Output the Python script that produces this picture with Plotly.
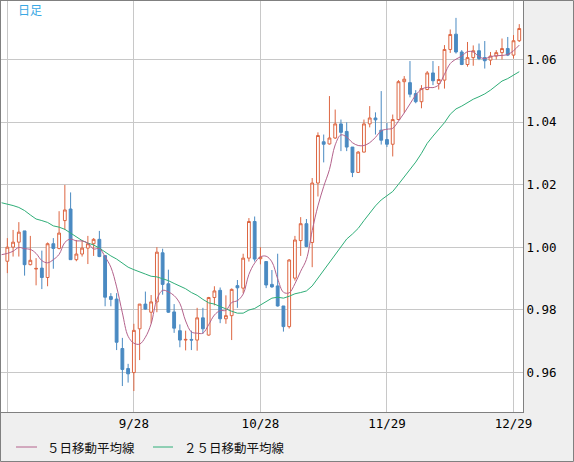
import plotly.graph_objects as go

# 日足 EUR/USD 風 ローソク足 (bar index 0 = 8/29, 89 = 12/30)
opens = [0.9955, 1.0000, 1.0016, 1.0052, 0.9944, 0.9930, 0.9933, 0.9903, 1.0011, 0.9996,
         1.0085, 1.0122, 0.9960, 0.9978, 0.9997, 1.0011, 1.0025, 0.9973, 0.9842, 0.9834,
         0.9676, 0.9612, 0.9599, 0.9739, 0.9818, 0.9792, 0.9825, 0.9982, 0.9883, 0.9793,
         0.9733, 0.9703, 0.9705, 0.9703, 0.9774, 0.9719, 0.9839, 0.9862, 0.9771, 0.9781,
         0.9877, 0.9869, 0.9965, 1.0082, 0.9963, 0.9954, 0.9881, 0.9876, 0.9812, 0.9746,
         0.9901, 1.0021, 1.0075, 1.0015, 1.0205, 1.0337, 1.0330, 1.0349, 1.0394, 1.0370,
         1.0320, 1.0239, 1.0304, 1.0394, 1.0413, 1.0374, 1.0344, 1.0329, 1.0408, 1.0529,
         1.0526, 1.0491, 1.0465, 1.0504, 1.0557, 1.0523, 1.0534, 1.0632, 1.0681, 1.0624,
         1.0584, 1.0606, 1.0628, 1.0606, 1.0598, 1.0611, 1.0622, 1.0635, 1.0614, 1.0660]
highs = [1.0029, 1.0055, 1.0080, 1.0052, 1.0036, 0.9965, 0.9989, 1.0015, 1.0029, 1.0115,
         1.0199, 1.0175, 1.0023, 1.0023, 1.0036, 1.0029, 1.0052, 0.9975, 0.9853, 0.9853,
         0.9710, 0.9627, 0.9755, 0.9818, 0.9858, 0.9847, 1.0000, 0.9995, 0.9928, 0.9818,
         0.9753, 0.9733, 0.9733, 0.9806, 0.9806, 0.9841, 0.9875, 0.9871, 0.9846, 0.9868,
         0.9895, 0.9979, 1.0093, 1.0098, 1.0000, 0.9955, 0.9927, 0.9979, 0.9812, 0.9962,
         1.0036, 1.0096, 1.0090, 1.0221, 1.0367, 1.0360, 1.0483, 1.0440, 1.0408, 1.0399,
         1.0320, 1.0307, 1.0408, 1.0451, 1.0431, 1.0499, 1.0397, 1.0424, 1.0534, 1.0547,
         1.0595, 1.0502, 1.0518, 1.0563, 1.0595, 1.0579, 1.0646, 1.0696, 1.0733, 1.0630,
         1.0656, 1.0645, 1.0651, 1.0659, 1.0624, 1.0630, 1.0667, 1.0672, 1.0678, 1.0713]
lows = [0.9917, 0.9970, 0.9970, 0.9909, 0.9942, 0.9878, 0.9866, 0.9875, 0.9931, 0.9993,
        1.0055, 0.9960, 0.9955, 0.9970, 0.9946, 0.9972, 0.9968, 0.9811, 0.9811, 0.9671,
        0.9556, 0.9567, 0.9540, 0.9639, 0.9800, 0.9756, 0.9792, 0.9848, 0.9790, 0.9726,
        0.9680, 0.9670, 0.9671, 0.9669, 0.9723, 0.9717, 0.9814, 0.9757, 0.9755, 0.9703,
        0.9806, 0.9853, 0.9954, 0.9954, 0.9945, 0.9869, 0.9870, 0.9810, 0.9730, 0.9740,
        0.9893, 0.9972, 1.0000, 0.9936, 1.0162, 1.0271, 1.0328, 1.0346, 1.0307, 1.0307,
        1.0224, 1.0237, 1.0303, 1.0383, 1.0360, 1.0328, 1.0320, 1.0290, 1.0406, 1.0429,
        1.0479, 1.0460, 1.0444, 1.0502, 1.0518, 1.0504, 1.0507, 1.0621, 1.0619, 1.0582,
        1.0577, 1.0580, 1.0598, 1.0571, 1.0582, 1.0600, 1.0600, 1.0611, 1.0603, 1.0656]
closes = [1.0000, 1.0016, 1.0048, 0.9944, 0.9958, 0.9932, 0.9903, 1.0011, 0.9996, 1.0045,
          1.0119, 0.9960, 0.9978, 0.9997, 1.0011, 1.0025, 0.9970, 0.9840, 0.9833, 0.9696,
          0.9609, 0.9595, 0.9734, 0.9818, 0.9802, 0.9825, 0.9984, 0.9881, 0.9792, 0.9741,
          0.9703, 0.9705, 0.9703, 0.9774, 0.9739, 0.9839, 0.9860, 0.9771, 0.9781, 0.9865,
          0.9870, 0.9965, 1.0082, 0.9962, 0.9968, 0.9879, 0.9873, 0.9812, 0.9746, 0.9959,
          1.0023, 1.0075, 1.0002, 1.0205, 1.0357, 1.0329, 1.0349, 1.0394, 1.0367, 1.0320,
          1.0239, 1.0304, 1.0394, 1.0413, 1.0407, 1.0342, 1.0329, 1.0408, 1.0529, 1.0537,
          1.0489, 1.0465, 1.0507, 1.0557, 1.0532, 1.0536, 1.0632, 1.0680, 1.0624, 1.0584,
          1.0606, 1.0628, 1.0603, 1.0596, 1.0611, 1.0622, 1.0635, 1.0614, 1.0660, 1.0699]
bar_idx = list(range(len(closes)))

# 移動平均線 (index -1 から: 左端で切れている分を含む)
ma_idx = list(range(-1, len(closes)))
ma5 = [0.9976, 0.9980, 0.9987, 0.9999, 0.9995, 0.9993, 0.9980, 0.9957, 0.9950, 0.9960,
       0.9977, 1.0015, 1.0026, 1.0020, 1.0020, 1.0013, 0.9994, 0.9996, 0.9969, 0.9936,
       0.9873, 0.9790, 0.9715, 0.9693, 0.9690, 0.9712, 0.9755, 0.9833, 0.9862, 0.9857,
       0.9845, 0.9820, 0.9764, 0.9729, 0.9725, 0.9725, 0.9752, 0.9783, 0.9797, 0.9798,
       0.9823, 0.9829, 0.9850, 0.9913, 0.9949, 0.9969, 0.9971, 0.9953, 0.9899, 0.9856,
       0.9854, 0.9883, 0.9923, 0.9961, 1.0053, 1.0132, 1.0194, 1.0248, 1.0327, 1.0359,
       1.0352, 1.0334, 1.0325, 1.0325, 1.0334, 1.0351, 1.0372, 1.0377, 1.0380, 1.0403,
       1.0429, 1.0458, 1.0486, 1.0505, 1.0511, 1.0510, 1.0519, 1.0553, 1.0587, 1.0601,
       1.0611, 1.0625, 1.0624, 1.0609, 1.0603, 1.0609, 1.0612, 1.0613, 1.0616, 1.0628,
       1.0646]
ma25 = [1.0142, 1.0138, 1.0133, 1.0127, 1.0117, 1.0103, 1.0090, 1.0085, 1.0079, 1.0068,
        1.0064, 1.0057, 1.0045, 1.0031, 1.0021, 1.0013, 1.0007, 0.9997, 0.9983, 0.9972,
        0.9962, 0.9949, 0.9936, 0.9928, 0.9922, 0.9914, 0.9907, 0.9905, 0.9899, 0.9893,
        0.9884, 0.9875, 0.9867, 0.9855, 0.9846, 0.9833, 0.9822, 0.9818, 0.9810, 0.9801,
        0.9795, 0.9789, 0.9789, 0.9799, 0.9804, 0.9815, 0.9826, 0.9837, 0.9840, 0.9837,
        0.9843, 0.9851, 0.9855, 0.9860, 0.9876, 0.9901, 0.9926, 0.9952, 0.9979, 1.0003,
        1.0026, 1.0042, 1.0060, 1.0085, 1.0110, 1.0132, 1.0151, 1.0165, 1.0178, 1.0201,
        1.0224, 1.0248, 1.0272, 1.0300, 1.0332, 1.0355, 1.0375, 1.0398, 1.0425, 1.0442,
        1.0451, 1.0462, 1.0473, 1.0481, 1.0490, 1.0502, 1.0517, 1.0531, 1.0539, 1.0549,
        1.0561]

tick_idx = [0, 22, 44, 66, 88]
tick_text = ['', '9/28', '10/28', '11/29', '12/29']
y_ticks = [0.96, 0.98, 1.00, 1.02, 1.04, 1.06]

# 色
UP = '#dd6642'
DOWN = '#4a8ac2'
C_MA5 = '#b4628c'
C_MA25 = '#2fae78'
GRID = '#c8c8c8'
FRAME = '#808080'

W, H = 574, 462
ML, MR, MT, MB = 1, 51, 1, 50
PW, PH = W - ML - MR, H - MT - MB


def px(x, y):
    # ピクセル座標 -> paper座標
    return (x - ML) / PW, 1 - (y - MT) / PH


fig = go.Figure()

fig.add_trace(go.Candlestick(
    x=bar_idx, open=opens, high=highs, low=lows, close=closes,
    increasing=dict(line=dict(color=UP, width=1), fillcolor='white'),
    decreasing=dict(line=dict(color=DOWN, width=1), fillcolor=DOWN),
    whiskerwidth=0, showlegend=False, name='日足'
))
fig.add_trace(go.Scatter(
    x=ma_idx, y=ma25, mode='lines', name='２５日移動平均線',
    line=dict(color=C_MA25, width=1), showlegend=False
))
fig.add_trace(go.Scatter(
    x=ma_idx, y=ma5, mode='lines', name='５日移動平均線',
    line=dict(color=C_MA5, width=1, shape='spline'), showlegend=False
))

fig.update_layout(
    width=W, height=H,
    margin=dict(l=ML, r=MR, t=MT, b=MB, pad=0),
    paper_bgcolor='#efefef', plot_bgcolor='white',
    font=dict(family='DejaVu Sans Mono', size=12.5, color='black'),
    showlegend=False,
)

fig.update_xaxes(
    range=[-1.1, 89.65], rangeslider_visible=False,
    tickmode='array', tickvals=tick_idx, ticktext=tick_text,
    showgrid=True, gridcolor=GRID, gridwidth=1, zeroline=False,
    showline=True, linecolor=FRAME, linewidth=1, mirror=True,
    ticks='', tickfont=dict(family='DejaVu Sans Mono', size=12.5, color='black'),
)
fig.update_yaxes(
    range=[0.9473, 1.0787], side='right',
    tickmode='array', tickvals=y_ticks, ticktext=[f'{v:.2f}' for v in y_ticks],
    showgrid=True, gridcolor=GRID, gridwidth=1, zeroline=False,
    showline=True, linecolor=FRAME, linewidth=1, mirror=True,
    ticks='', tickfont=dict(family='DejaVu Sans Mono', size=12.5, color='black'),
)

# タイトル
tx, ty = px(16, 10)
fig.add_annotation(text='日足', x=tx, y=ty, xref='paper', yref='paper',
                   xanchor='left', yanchor='middle', showarrow=False,
                   font=dict(family='Noto Sans CJK JP', size=12, color='#3aa8e4'))

# 凡例 (手描き)
legend_items = [('５日移動平均線', C_MA5, 16, 37, 45), ('２５日移動平均線', C_MA25, 153, 173, 182)]
for label, color, lx0, lx1, tx0 in legend_items:
    x0, ly = px(lx0, 447)
    x1, _ = px(lx1, 447)
    fig.add_shape(type='line', xref='paper', yref='paper', x0=x0, x1=x1, y0=ly, y1=ly,
                  line=dict(color=color, width=1))
    ax, _ = px(tx0, 447)
    fig.add_annotation(text=label, x=ax, y=ly, xref='paper', yref='paper',
                       xanchor='left', yanchor='middle', showarrow=False,
                       font=dict(family='Noto Sans CJK JP', size=12.5, color='#111111'))

# 外枠
bx0, by1 = px(0.5, 0.5)
bx1, by0 = px(W - 0.5, H - 0.5)
fig.add_shape(type='rect', xref='paper', yref='paper', x0=bx0, x1=bx1, y0=by0, y1=by1,
              line=dict(color=FRAME, width=1))

# ページ既定の余白 (body margin 8px) を消し、ツールバーも出さない
fig.write_html('out.html', config={'displayModeBar': False},
               post_script="document.body.style.margin='0';")
